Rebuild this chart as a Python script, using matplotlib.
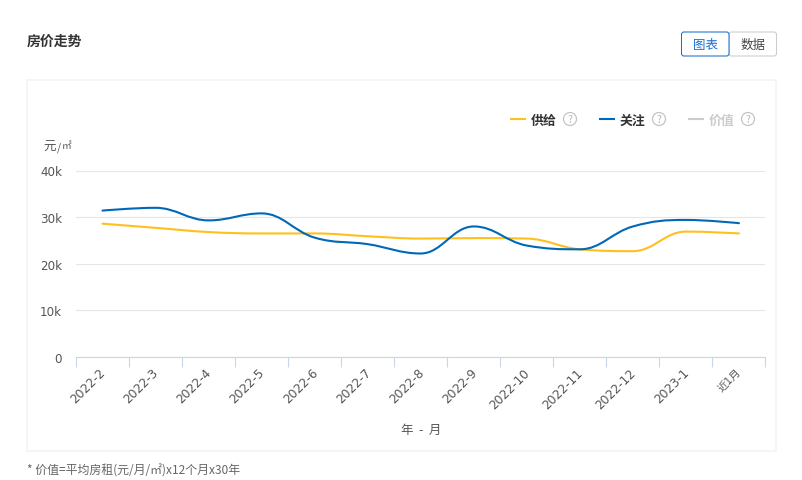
import matplotlib
matplotlib.use("Agg")
import matplotlib.pyplot as plt
from matplotlib.path import Path
from matplotlib.patches import PathPatch, Rectangle, Circle, FancyBboxPatch
from matplotlib.lines import Line2D
from matplotlib.transforms import ScaledTranslation

plt.rcParams['font.family'] = ['Noto Sans CJK SC', 'DejaVu Sans']

W, H = 803, 481
months = ['2022-2', '2022-3', '2022-4', '2022-5', '2022-6', '2022-7', '2022-8',
          '2022-9', '2022-10', '2022-11', '2022-12', '2023-1', '近1月']
supply = [28600, 27700, 26800, 26500, 26500, 25900, 25400,
          25500, 25400, 23100, 22700, 26900, 26500]
attention = [31400, 32000, 29300, 30800, 25600, 24200, 22200,
             28000, 23900, 23100, 28000, 29400, 28700]
y_ticks = [0, 10000, 20000, 30000, 40000]
y_labels = ['0', '10k', '20k', '30k', '40k']
YELLOW, BLUE = '#ffc01e', '#0068b7'
TXT = '#555555'


def spline_path(ys, smoothing=1.5):
    """Highcharts-style spline through the data points."""
    n = len(ys)
    d = smoothing + 1
    lx, ly, rx, ry = list(range(n)), list(ys), list(range(n)), list(ys)
    for i in range(1, n - 1):
        y, py, ny = ys[i], ys[i - 1], ys[i + 1]
        lcx = (smoothing * i + i - 1) / d
        lcy = (smoothing * y + py) / d
        rcx = (smoothing * i + i + 1) / d
        rcy = (smoothing * y + ny) / d
        c = (rcy - lcy) * (rcx - i) / (rcx - lcx) + y - rcy
        lcy += c
        rcy += c
        if lcy > py and lcy > y:
            lcy = max(py, y)
            rcy = 2 * y - lcy
        elif lcy < py and lcy < y:
            lcy = min(py, y)
            rcy = 2 * y - lcy
        if rcy > ny and rcy > y:
            rcy = max(ny, y)
            lcy = 2 * y - rcy
        elif rcy < ny and rcy < y:
            rcy = min(ny, y)
            lcy = 2 * y - rcy
        lx[i], ly[i], rx[i], ry[i] = lcx, lcy, rcx, rcy
    verts = [(0, ys[0])]
    codes = [Path.MOVETO]
    for i in range(1, n):
        verts += [(rx[i - 1], ry[i - 1]), (lx[i], ly[i]), (i, ys[i])]
        codes += [Path.CURVE4] * 3
    return Path(verts, codes)


fig = plt.figure(figsize=(W / 100, H / 100), dpi=100, facecolor='white')

# page furniture, in pixel coordinates
bg = fig.add_axes([0, 0, 1, 1])
bg.set_xlim(0, W)
bg.set_ylim(H, 0)
bg.axis('off')
bg.add_patch(Rectangle((27.5, 80.5), 749, 371, fc='white', ec='#f5f5f5', lw=1.4))
bg.text(27, 42, '房价走势', fontsize=10, fontweight='bold', color='#333333', va='center')
bg.add_patch(FancyBboxPatch((729, 33), 47.5, 24, boxstyle='round,pad=0,rounding_size=2.5',
                            fc='white', ec='#cccccc', lw=0.75))
bg.add_patch(FancyBboxPatch((681.5, 33), 47.5, 24, boxstyle='round,pad=0,rounding_size=2.5',
                            fc='white', ec='#1a6fd0', lw=0.75))
bg.text(705.5, 45, '图表', fontsize=9, color='#1a6fd0', ha='center', va='center')
bg.text(753, 45, '数据', fontsize=9, color='#444444', ha='center', va='center')

legend = [(510, '供给', YELLOW, '#333333'), (599, '关注', BLUE, '#333333'), (688, '价值', '#cccccc', '#cccccc')]
for x0, name, col, tcol in legend:
    bg.add_line(Line2D([x0, x0 + 16], [120, 120], color=col, lw=1.5, solid_capstyle='butt'))
    bg.text(x0 + 21, 120.5, name, fontsize=9.3, fontweight='bold', color=tcol, va='center')
    bg.add_patch(Circle((x0 + 60, 120), 6.5, fc='none', ec='#c4c4c4', lw=0.9))
    bg.text(x0 + 60, 120, '?', fontsize=7.5, color='#b5b5b5', ha='center', va='center')

bg.text(43, 147.5, '元', fontsize=9, color=TXT, va='center')
bg.text(57, 147.5, '/', fontsize=7.5, color=TXT, va='center')
bg.text(62, 146.5, '㎡', fontsize=7, color=TXT, va='center')
bg.text(27, 471, '* 价值=平均房租(元/月/㎡)x12个月x30年', fontsize=8.6, color='#666666', va='center')

# chart
ax = fig.add_axes([76 / W, 1 - 358 / H, 689.5 / W, 186.5 / H])
ax.patch.set_alpha(0)
ax.set_xlim(-0.5, 12.5)
ax.set_ylim(0, 40000)
for s in ('top', 'left', 'right'):
    ax.spines[s].set_visible(False)
ax.spines['bottom'].set_color('#ccd6eb')
ax.spines['bottom'].set_linewidth(0.8)

ax.set_yticks(y_ticks, y_labels, family=['DejaVu Sans'], fontsize=8.6, color=TXT)
ax.tick_params(axis='y', length=0, pad=10)
ax.grid(axis='y', color='#e6e6e6', lw=0.8)
ax.set_axisbelow(True)

ax.set_xticks([i - 0.5 for i in range(len(months) + 1)])
ax.set_xticklabels([])
ax.tick_params(axis='x', which='major', length=7.2, width=0.8, color='#ccd6eb')
ax.set_xticks(range(len(months)), minor=True)
ax.set_xticklabels(months, minor=True, rotation=45, ha='right', va='top',
                   rotation_mode='anchor', fontsize=8.8, color=TXT, family=['DejaVu Sans', 'Noto Sans CJK SC'])
ax.tick_params(axis='x', which='minor', length=0, pad=7)
shift = ScaledTranslation(-3.5 / 100, 1 / 100, fig.dpi_scale_trans)
for lab in ax.xaxis.get_minorticklabels():
    lab.set_transform(lab.get_transform() + shift)
    if lab.get_text().startswith('近'):
        lab.set_fontsize(7.6)
ax.set_xlabel('年  -  月', fontsize=9, color=TXT)
ax.xaxis.set_label_coords(0.5, -0.355)

for series, col in ((supply, YELLOW), (attention, BLUE)):
    ax.add_patch(PathPatch(spline_path(series), fc='none', ec=col, lw=1.5, capstyle='round'))

fig.savefig('out.png', dpi=100)
